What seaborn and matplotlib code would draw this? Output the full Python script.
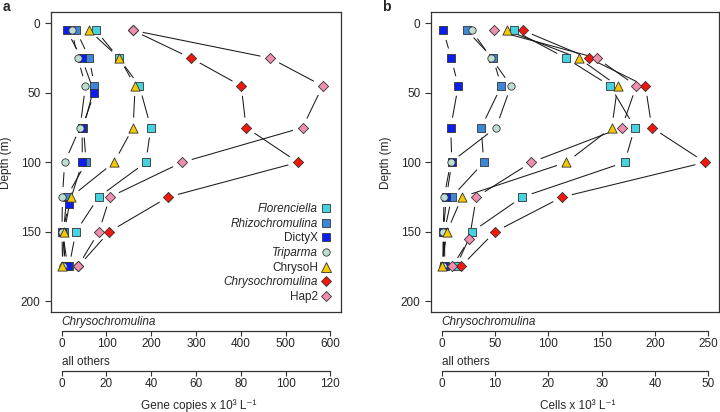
import numpy as np
import pandas as pd
import matplotlib
matplotlib.use("Agg")
import matplotlib.pyplot as plt
import seaborn as sns
from matplotlib.lines import Line2D

# ---------------- data ----------------
species = ["Florenciella", "Rhizochromulina", "DictyX", "Triparma",
           "ChrysoH", "Chrysochromulina", "Hap2"]
italic_names = ["Florenciella", "Rhizochromulina", "Triparma", "Chrysochromulina"]

depths = [5, 25, 45, 75, 100, 125, 150, 175]
depths_dictyx_a = [5, 25, 50, 75, 100, 130, 150, 175]
depths_hap2_b = [5, 25, 45, 75, 100, 125, 155, 175]

# panel a : gene copies x 10^3 L-1 (Chrysochromulina on its own axis)
florenciella_a = [15.2, 25.5, 34.7, 39.8, 37.6, 16.5, 6.3, 3.3]
rhizochromulina_a = [6.4, 12.3, 14.6, 9.7, 10.9, 2.2, 0.8, 1.5]
dictyx_a = [2.2, 8.9, 14.6, 9.1, 9.2, 3.3, 0.3, 2.7]
triparma_a = [4.5, 7.2, 10.6, 8.2, 1.3, 0.3, 0.1, 0.4]
chrysoh_a = [12.2, 25.8, 32.8, 31.9, 23.4, 4.0, 1.2, 0.1]
chrysochromulina_a = [159, 289, 401, 412, 528, 238, 106, 37]
hap2_a = [31.8, 93.2, 116.6, 107.6, 53.8, 21.5, 16.6, 7.2]

# panel b : cells x 10^3 L-1
florenciella_b = [13.5, 23.3, 31.6, 36.2, 34.3, 15.1, 5.7, 2.7]
rhizochromulina_b = [4.7, 9.6, 11.2, 7.4, 7.9, 1.9, 0.5, 0.6]
dictyx_b = [0.3, 1.8, 3.1, 1.7, 1.9, 0.9, 0.3, 0.4]
triparma_b = [5.6, 9.3, 13.0, 10.2, 1.7, 0.45, 0.3, 0.2]
chrysoh_b = [12.2, 25.7, 33.0, 31.9, 23.4, 3.8, 1.0, 0.0]
chrysochromulina_b = [76, 138, 191, 197, 247, 113, 50, 18]
hap2_b = [9.9, 29.1, 36.5, 33.8, 16.8, 6.5, 5.2, 2.0]

chryso_ticks_a = [0, 100, 200, 300, 400, 500, 600]
others_ticks_a = [0, 20, 40, 60, 80, 100, 120]
chryso_ticks_b = [0, 50, 100, 150, 200, 250]
others_ticks_b = [0, 10, 20, 30, 40, 50]
depth_ticks = [0, 50, 100, 150, 200]

xlabel_a = "Gene copies x 10³ L⁻¹"
xlabel_b = "Cells x 10³ L⁻¹"

# ---------------- styles ----------------
colors = {"Florenciella": "#45D3E0", "Rhizochromulina": "#3D87D8",
          "DictyX": "#0A1EF0", "Triparma": "#BEDFCF", "ChrysoH": "#F5C800",
          "Chrysochromulina": "#F0180C", "Hap2": "#EE8FAE"}
markers = {"Florenciella": "s", "Rhizochromulina": "s", "DictyX": "s",
           "Triparma": "o", "ChrysoH": "^", "Chrysochromulina": "D", "Hap2": "D"}
msizes = {"Florenciella": 26, "Rhizochromulina": 26, "DictyX": 26,
          "Triparma": 28, "ChrysoH": 44, "Chrysochromulina": 27, "Hap2": 27}

sns.set_theme(style="ticks")
plt.rcParams["font.family"] = ["Liberation Sans", "DejaVu Sans"]
FS = 8.5
EDGE = "#333333"

fig = plt.figure(figsize=(7.2, 4.12), dpi=100)
W, H = 720.0, 412.0


def build_frame(values, depth_map):
    rows = []
    for sp in species:
        for d, v in zip(depth_map[sp], values[sp]):
            rows.append({"species": sp, "depth": d, "value": v})
    return pd.DataFrame(rows)


def make_panel(rect, values, depth_map, chryso_ticks, others_ticks, xlabel, letter, letter_x):
    ax = fig.add_axes(rect)
    factor = chryso_ticks[-1] / others_ticks[-1]
    vals = {sp: (np.array(values[sp]) / factor if sp == "Chrysochromulina" else np.array(values[sp]))
            for sp in species}
    omax = others_ticks[-1]
    xlim = (-0.04 * omax, 1.04 * omax)
    ax.set_xlim(xlim)
    ax.set_ylim(208, -8)

    # gapped connecting lines (R type "b")
    gap = 10.0
    inv = ax.transData.inverted()
    for sp in species:
        pts = ax.transData.transform(np.column_stack([vals[sp], depth_map[sp]]))
        for p0, p1 in zip(pts[:-1], pts[1:]):
            d = p1 - p0
            L = np.hypot(*d)
            if L <= 2 * gap + 1:
                continue
            u = d / L
            seg = inv.transform(np.array([p0 + u * gap, p1 - u * gap]))
            ax.plot(seg[:, 0], seg[:, 1], color="#1a1a1a", lw=0.75, zorder=1,
                    solid_capstyle="butt")

    df = build_frame({sp: vals[sp] for sp in species}, depth_map)
    for sp in species:
        sub = df[df["species"] == sp]
        sns.scatterplot(data=sub, x="value", y="depth", ax=ax, color=colors[sp],
                        marker=markers[sp], s=msizes[sp], edgecolor=EDGE,
                        linewidth=0.6, zorder=3, legend=False)

    ax.set_xlabel("")
    ax.set_ylabel("Depth (m)", fontsize=FS, labelpad=6)
    ax.set_xticks([])
    ax.set_yticks(depth_ticks)
    ax.tick_params(axis="y", direction="out", length=4, width=0.8, labelsize=FS,
                   pad=3.5, color=EDGE)
    for s in ax.spines.values():
        s.set_color(EDGE)
        s.set_linewidth(0.9)
        s.set_visible(True)

    # lower axes
    pos = ax.get_position()
    for y_px, ticks, label, lim in [
        (330.7, chryso_ticks, "Chrysochromulina", (xlim[0] * factor, xlim[1] * factor)),
        (370.7, others_ticks, "all others", xlim),
    ]:
        b = fig.add_axes([pos.x0, (H - y_px) / H, pos.width, 0.0001])
        b.set_xlim(lim)
        b.set_ylim(0, 1)
        b.patch.set_visible(False)
        for s in ["left", "right", "top"]:
            b.spines[s].set_visible(False)
        b.spines["bottom"].set_bounds(ticks[0], ticks[-1])
        b.spines["bottom"].set_color(EDGE)
        b.spines["bottom"].set_linewidth(0.9)
        b.set_yticks([])
        b.set_xticks(ticks)
        b.set_xticklabels([str(t) for t in ticks])
        b.tick_params(axis="x", direction="out", length=3.8, width=0.8,
                      labelsize=FS, pad=1.5, color=EDGE)
        b.annotate(label, xy=(ticks[0], 0), xycoords=("data", "axes fraction"),
                   xytext=(0, 8.5), textcoords="offset pixels", ha="left",
                   va="center", fontsize=FS,
                   fontstyle="italic" if label == "Chrysochromulina" else "normal")
        if label == "all others":
            b.annotate(xlabel, xy=((ticks[0] + ticks[-1]) / 2, 0),
                       xycoords=("data", "axes fraction"), xytext=(3, -35),
                       textcoords="offset pixels", ha="center", va="center",
                       fontsize=FS)

    fig.text(letter_x / W, (H - 7) / H, letter, fontsize=10, fontweight="bold",
             ha="left", va="center")
    return ax


vals_a = {"Florenciella": florenciella_a, "Rhizochromulina": rhizochromulina_a,
          "DictyX": dictyx_a, "Triparma": triparma_a, "ChrysoH": chrysoh_a,
          "Chrysochromulina": chrysochromulina_a, "Hap2": hap2_a}
vals_b = {"Florenciella": florenciella_b, "Rhizochromulina": rhizochromulina_b,
          "DictyX": dictyx_b, "Triparma": triparma_b, "ChrysoH": chrysoh_b,
          "Chrysochromulina": chrysochromulina_b, "Hap2": hap2_b}
dmap_a = {sp: depths for sp in species}
dmap_a["DictyX"] = depths_dictyx_a
dmap_b = {sp: depths for sp in species}
dmap_b["Hap2"] = depths_hap2_b

ax_a = make_panel([51 / W, (H - 312.3) / H, 290 / W, 300 / H], vals_a, dmap_a,
                  chryso_ticks_a, others_ticks_a, xlabel_a, "a", 3)
ax_b = make_panel([431 / W, (H - 312.3) / H, 288 / W, 300 / H], vals_b, dmap_b,
                  chryso_ticks_b, others_ticks_b, xlabel_b, "b", 382)

# legend in panel a
handles = [Line2D([], [], linestyle="none", marker=markers[sp],
                  markerfacecolor=colors[sp], markeredgecolor=EDGE,
                  markeredgewidth=0.6, markersize=np.sqrt(msizes[sp]))
           for sp in species]
leg = ax_a.legend(handles, species, loc="lower right", bbox_to_anchor=(1.0, 0.0),
                  frameon=False, markerfirst=False, fontsize=FS, labelspacing=0.22,
                  handlelength=1.0, handletextpad=0.15, borderaxespad=0.4,
                  alignment="right")
for t in leg.get_texts():
    if t.get_text() in italic_names:
        t.set_fontstyle("italic")
for t in leg.get_texts():
    t.set_ha("right")

fig.savefig("out.png", dpi=100)
